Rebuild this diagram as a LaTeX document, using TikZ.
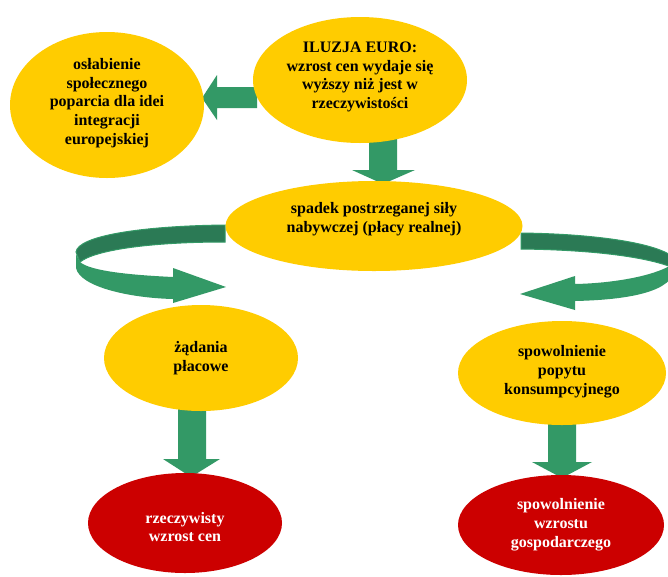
\documentclass[tikz,border=0pt]{standalone}
\usepackage{fontspec}
\setmainfont{Liberation Serif}
\usetikzlibrary{shapes.geometric}
\definecolor{gold}{HTML}{FFCC00}
\definecolor{arrgreen}{HTML}{339966}
\definecolor{darkgreen}{HTML}{2B7A55}
\definecolor{bred}{HTML}{CC0000}
\begin{document}
\begin{tikzpicture}[x=1pt,y=-1pt,
  bubble/.style={ellipse, fill=gold, draw=none, inner sep=0pt},
  redbubble/.style={bubble, fill=bred},
  btext/.style={align=center, inner sep=0pt, font=\fontsize{16}{18.8}\selectfont\bfseries},
  wtext/.style={btext, text=white},
  blockarrow/.style={fill=arrgreen, draw=none},
  backband/.style={fill=darkgreen, draw=arrgreen, line width=1pt},
  frontband/.style={fill=arrgreen, draw=none}]
\clip (0,0) rectangle (668,576);
\fill[white] (0,0) rectangle (668,576);

% curled ribbons (behind ellipses)
\draw[backband] (225,225) .. controls (140,226) and (78,236) .. (76,252) -- (80,262) .. controls (95,250) and (150,242) .. (225,242) -- cycle;
\fill[frontband] (76,254) -- (76,268) .. controls (80,287) and (130,298) .. (173,299) -- (173,303) -- (226,287) -- (173,268) -- (173,277) .. controls (130,275) and (90,271) .. (80,262) -- cycle;

\draw[backband] (521,233) .. controls (600,234) and (660,244) .. (674,258) -- (674,268) .. controls (650,258) and (600,250) .. (521,249) -- cycle;
\fill[frontband] (575,276) -- (520,294) -- (575,310) -- (575,301) .. controls (620,300) and (668,294) .. (674,272) -- (674,263) .. controls (660,274) and (620,283) .. (575,284) -- cycle;

% block arrows
\fill[blockarrow] (257,87) -- (217,87) -- (217,75) -- (202,98) -- (217,120) -- (217,108) -- (257,108) -- cycle;
\fill[blockarrow] (369,138) -- (397,138) -- (397,170) -- (415,170) -- (383,184) -- (352,170) -- (369,170) -- cycle;
\fill[blockarrow] (178,408) -- (206,408) -- (206,459) -- (220,459) -- (191,477) -- (163,459) -- (178,459) -- cycle;
\fill[blockarrow] (548,422) -- (576,422) -- (576,462) -- (592,462) -- (562,478) -- (532,462) -- (548,462) -- cycle;

% ellipses
\node[bubble, minimum width=194, minimum height=146] (weak) at (107,105) {};
\node[bubble, minimum width=214, minimum height=126] (illusion) at (360,80) {};
\node[bubble, minimum width=297, minimum height=90] (spadek) at (374,226) {};
\node[bubble, minimum width=194, minimum height=106] (wage) at (201,358) {};
\node[bubble, minimum width=208, minimum height=104] (demand) at (562,373) {};
\node[redbubble, minimum width=194, minimum height=100] (prices) at (185,523) {};
\node[redbubble, minimum width=206, minimum height=100] (growth) at (561,525) {};

% texts
\node[btext] (weak-t) at (107,103) {osłabienie\\społecznego\\poparcia dla idei\\integracji\\europejskiej};
\node[btext] (illusion-t) at (360,77) {ILUZJA EURO:\\wzrost cen wydaje się\\wyższy niż jest w\\rzeczywistości};
\node[btext] (spadek-t) at (374,219) {spadek postrzeganej siły\\nabywczej (płacy realnej)};
\node[btext] (wage-t) at (201,358) {żądania\\płacowe};
\node[btext] (demand-t) at (562,372) {spowolnienie\\popytu\\konsumpcyjnego};
\node[wtext] (prices-t) at (185,527) {rzeczywisty\\wzrost cen};
\node[wtext] (growth-t) at (561,525) {spowolnienie\\wzrostu\\gospodarczego};
\end{tikzpicture}
\end{document}
